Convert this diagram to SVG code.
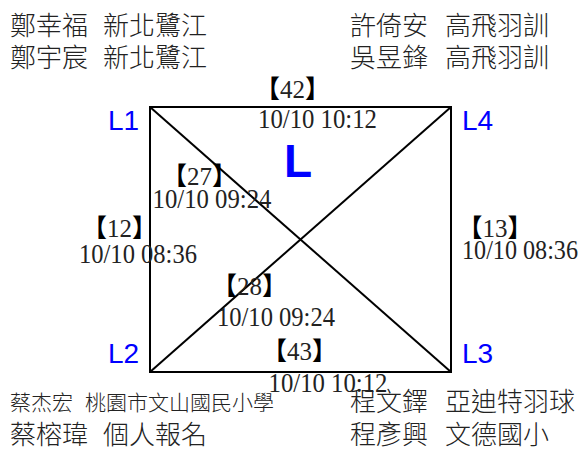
<svg xmlns="http://www.w3.org/2000/svg" width="585" height="450" viewBox="0 0 585 450">
<style>
.nm{font-family:"Noto Sans CJK TC","Noto Sans CJK SC",sans-serif;font-size:26px;fill:#222;font-weight:300}
.nms{font-family:"Noto Sans CJK TC","Noto Sans CJK SC",sans-serif;font-size:21px;fill:#222;font-weight:300}
.br{font-family:"Liberation Serif","Noto Sans CJK TC",serif;font-size:25px;fill:#222;text-anchor:middle}
.br tspan{font-family:"Noto Sans CJK TC","Noto Sans CJK SC",sans-serif;font-weight:bold;fill:#000}
.dt{font-family:"Liberation Serif",serif;font-size:26.5px;fill:#222;text-anchor:middle}
.lb{font-family:"Liberation Sans",Arial,sans-serif;font-size:28px;fill:#0000ff}
.big{font-family:"Liberation Sans",Arial,sans-serif;font-size:46px;font-weight:bold;fill:#0000ff}
.ln{stroke:#000;stroke-width:2;fill:none}
</style>
<rect width="585" height="450" fill="#fff"/>
<g id="connectors">
<rect class="ln" x="150" y="107" width="301" height="265"/>
<line class="ln" x1="150" y1="107" x2="451" y2="372"/>
<line class="ln" x1="451" y1="107" x2="150" y2="372"/>
</g>
<g id="teams">
<text class="nm" y="35"><tspan x="10">鄭幸福</tspan><tspan x="103">新北鷺江</tspan></text>
<text class="nm" y="67"><tspan x="10">鄭宇宸</tspan><tspan x="103">新北鷺江</tspan></text>
<text class="nm" y="35"><tspan x="350">許倚安</tspan><tspan x="445">高飛羽訓</tspan></text>
<text class="nm" y="67"><tspan x="350">吳昱鋒</tspan><tspan x="445">高飛羽訓</tspan></text>
<text class="nms" y="410"><tspan x="10">蔡杰宏</tspan><tspan x="85">桃園市文山國民小學</tspan></text>
<text class="nm" y="444"><tspan x="10">蔡榕瑋</tspan><tspan x="103">個人報名</tspan></text>
<text class="nm" y="411"><tspan x="350">程文鐸</tspan><tspan x="445">亞迪特羽球</tspan></text>
<text class="nm" y="444"><tspan x="350">程彥興</tspan><tspan x="445">文德國小</tspan></text>
</g>
<g id="nodes">
<g id="L1"><text class="lb" x="108" y="130">L1</text></g>
<g id="L4"><text class="lb" x="462" y="130">L4</text></g>
<g id="L2"><text class="lb" x="108" y="363">L2</text></g>
<g id="L3"><text class="lb" x="462" y="363">L3</text></g>
<g id="L"><text class="big" x="284" y="177">L</text></g>
</g>
<g id="matches">
<text class="br" x="292.5" y="98"><tspan>【</tspan>42<tspan>】</tspan></text>
<text class="dt" x="317.5" y="128" textLength="119" lengthAdjust="spacingAndGlyphs">10/10 10:12</text>
<text class="br" x="199.5" y="185"><tspan>【</tspan>27<tspan>】</tspan></text>
<text class="dt" x="212" y="208" textLength="119" lengthAdjust="spacingAndGlyphs">10/10 09:24</text>
<text class="br" x="119.5" y="237"><tspan>【</tspan>12<tspan>】</tspan></text>
<text class="dt" x="138" y="263" textLength="118" lengthAdjust="spacingAndGlyphs">10/10 08:36</text>
<text class="br" x="495" y="237"><tspan>【</tspan>13<tspan>】</tspan></text>
<text class="dt" x="520" y="259" textLength="116" lengthAdjust="spacingAndGlyphs">10/10 08:36</text>
<text class="br" x="249.5" y="295"><tspan>【</tspan>28<tspan>】</tspan></text>
<text class="dt" x="276" y="326" textLength="118" lengthAdjust="spacingAndGlyphs">10/10 09:24</text>
<text class="br" x="299.5" y="360"><tspan>【</tspan>43<tspan>】</tspan></text>
<text class="dt" x="328" y="392" textLength="119" lengthAdjust="spacingAndGlyphs">10/10 10:12</text>
</g>
</svg>
